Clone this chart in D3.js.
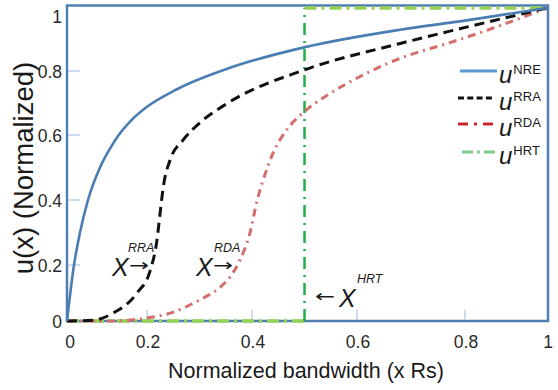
<!DOCTYPE html>
<html>
<head>
<meta charset="utf-8">
<script src="https://cdn.jsdelivr.net/npm/d3@7/dist/d3.min.js"></script>
<style>
  html, body { margin: 0; padding: 0; background: #fff; }
  svg { display: block; font-family: "Liberation Sans", Arial, sans-serif; }
</style>
</head>
<body>
<svg id="chart" width="558" height="390"></svg>
<script>
// Tick values and labels
const xTicks = [0, 0.2, 0.4, 0.6, 0.8, 1];
const yTicks = [0, 0.2, 0.4, 0.6, 0.8, 1];
const xTickLabels = ["0", "0.2", "0.4", "0.6", "0.8", "1"];
const yTickLabels = ["0", "0.2", "0.4", "0.6", "0.8", "1"];

// Utility curves u(x), normalized bandwidth x
const nreX = [0, 0.0175, 0.0325, 0.0525, 0.0825, 0.105, 0.1275, 0.16, 0.2, 0.257, 0.358, 0.499, 0.68, 0.8, 1];
const nreU = [0, 0.2, 0.3, 0.4, 0.5, 0.553, 0.597, 0.645, 0.688, 0.743, 0.81, 0.875, 0.931, 0.96, 1];

const rraX = [0, 0.065, 0.115, 0.175, 0.206, 0.219, 0.225, 0.231, 0.244, 0.269, 0.30, 0.354, 0.499, 0.68, 0.79, 1];
const rraU = [0, 0.003, 0.028, 0.1, 0.18, 0.277, 0.36, 0.44, 0.523, 0.585, 0.637, 0.70, 0.803, 0.8875, 0.934, 1];

const rdaX = [0, 0.1, 0.195, 0.244, 0.30, 0.339, 0.358, 0.377, 0.396, 0.41, 0.421, 0.44, 0.466, 0.499, 0.549, 0.611, 0.68, 0.772, 0.864, 1];
const rdaU = [0, 0, 0.01, 0.028, 0.075, 0.12, 0.157, 0.215, 0.298, 0.4, 0.46, 0.544, 0.616, 0.672, 0.73, 0.7875, 0.84, 0.89, 0.934, 1];

const hrtX = [0, 0.5, 0.5, 1];
const hrtU = [0, 0, 1, 1];

// Legend entries and annotation labels
const legendNames = ["NRE", "RRA", "RDA", "HRT"];
const markers = [
  { base: "X", sup: "RRA", arrow: "→" },
  { base: "X", sup: "RDA", arrow: "→" },
  { base: "X", sup: "HRT", arrow: "←" }
];

const svg = d3.select("#chart");

// Axis scales (piecewise-linear between tick positions)
const x = d3.scaleLinear().domain(xTicks).range([67, 147, 252, 357, 465, 547]);
const y = d3.scaleLinear().domain(yTicks).range([321, 265, 200, 135, 71, 8]);

const frameColor = "#4f7fb3";
const tickColor = "#b9d1ea";

// Frame
svg.append("rect")
  .attr("x", x(0)).attr("y", 5.5)
  .attr("width", x(1) + 1 - x(0)).attr("height", y(0) - 5.5)
  .attr("fill", "none").attr("stroke", frameColor).attr("stroke-width", 2.5);

// Inner tick marks
svg.append("g").selectAll("line").data(yTicks.filter(v => v > 0 && v < 1)).join("line")
  .attr("x1", x(0) + 1).attr("x2", x(0) + 13)
  .attr("y1", d => y(d)).attr("y2", d => y(d))
  .attr("stroke", tickColor).attr("stroke-width", 1.5);
svg.append("g").selectAll("line").data(xTicks.filter(v => v > 0 && v < 1)).join("line")
  .attr("x1", d => x(d)).attr("x2", d => x(d))
  .attr("y1", y(0) - 1).attr("y2", y(0) - 11)
  .attr("stroke", tickColor).attr("stroke-width", 1.5);

// Tick labels
svg.append("g").selectAll("text").data(yTicks).join("text")
  .attr("x", 62)
  .attr("y", d => Math.max(y(d) + 6.5, 23))
  .attr("text-anchor", "end")
  .attr("font-size", 17.5).attr("fill", "#2a2a2a")
  .text((d, i) => yTickLabels[i]);
svg.append("g").selectAll("text").data(xTicks).join("text")
  .attr("x", d => x(d) + (d === 0 ? 3 : 1))
  .attr("y", 348)
  .attr("text-anchor", "middle")
  .attr("font-size", 17.5).attr("fill", "#2a2a2a")
  .text((d, i) => xTickLabels[i]);

// Axis titles
svg.append("text")
  .attr("x", 306).attr("y", 378)
  .attr("text-anchor", "middle")
  .attr("font-size", 21.5).attr("fill", "#1a1a1a")
  .text("Normalized bandwidth (x Rs)");
svg.append("text")
  .attr("transform", "translate(33,168) rotate(-90)")
  .attr("text-anchor", "middle")
  .attr("font-size", 27.5).attr("fill", "#1a1a1a")
  .text("u(x) (Normalized)");

const line = d3.line().x(d => x(d[0])).y(d => y(d[1])).curve(d3.curveMonotoneX);
const zip = (xs, us) => xs.map((v, i) => [v, us[i]]);

// HRT step (horizontal parts light green, jump darker green)
const hrt = zip(hrtX, hrtU);
const hrtSegs = d3.pairs(hrt);
svg.append("g").selectAll("path").data(hrtSegs).join("path")
  .attr("d", d => d3.line().x(p => x(p[0])).y(p => y(p[1]))(d))
  .attr("fill", "none")
  .attr("stroke", d => d[0][0] === d[1][0] ? "#1fae48" : "#95d152")
  .attr("stroke-width", d => d[0][0] === d[1][0] ? 2.5 : 3.5)
  .attr("stroke-dasharray", d => d[0][0] === d[1][0] ? "12,6,2,6" : "12,5,3,5");

// RDA
svg.append("path")
  .attr("d", line(zip(rdaX, rdaU)))
  .attr("fill", "none").attr("stroke", "#d46e6c").attr("stroke-width", 3)
  .attr("stroke-dasharray", "8,5,2,5");

// RRA
svg.append("path")
  .attr("d", line(zip(rraX, rraU)))
  .attr("fill", "none").attr("stroke", "#111").attr("stroke-width", 3)
  .attr("stroke-dasharray", "10,6");

// NRE
svg.append("path")
  .attr("d", line(zip(nreX, nreU)))
  .attr("fill", "none").attr("stroke", "#4a7db3").attr("stroke-width", 2.6);

// Legend
const legendStyles = [
  { color: "#5b9bd5", dash: null, x1: 460 },
  { color: "#111", dash: "6,3.3", x1: 458 },
  { color: "#c4282e", dash: "10,6,3,6", x1: 458 },
  { color: "#7dcd90", dash: "11,4,3,4", x1: 462 }
];
const legendRows = [71, 98, 124, 152];
const lg = svg.append("g");
legendNames.forEach((name, i) => {
  const st = legendStyles[i];
  const ly = legendRows[i];
  lg.append("line")
    .attr("x1", st.x1).attr("x2", st.x1 + 37)
    .attr("y1", ly).attr("y2", ly)
    .attr("stroke", st.color).attr("stroke-width", 3)
    .attr("stroke-dasharray", st.dash);
  const t = lg.append("text").attr("x", 499).attr("y", ly + 12).attr("fill", "#1a1a1a");
  t.append("tspan").attr("font-size", 24).attr("font-style", "italic").text("u");
  t.append("tspan").attr("font-size", 13).attr("dx", 1).attr("dy", -9).text(name);
});

// Threshold annotations
const annPos = [
  { tx: 112, ty: 276, sx: 128, sy: 252, ax: 129, ay: 271 },
  { tx: 196, ty: 276, sx: 214, sy: 252, ax: 213, ay: 271 },
  { tx: 339, ty: 307, sx: 357, sy: 283, ax: 315, ay: 302 }
];
markers.forEach((m, i) => {
  const p = annPos[i];
  const g = svg.append("g").attr("fill", "#1a1a1a");
  g.append("text").attr("x", p.tx).attr("y", p.ty)
    .attr("font-size", 25).attr("font-style", "italic").text(m.base);
  g.append("text").attr("x", p.sx).attr("y", p.sy)
    .attr("font-size", 12.5).attr("font-style", "italic").text(m.sup);
  g.append("text").attr("x", p.ax).attr("y", p.ay)
    .attr("font-family", "'DejaVu Sans', sans-serif")
    .attr("font-size", 17)
    .attr("textLength", 20).attr("lengthAdjust", "spacingAndGlyphs")
    .text(m.arrow);
});
</script>
</body>
</html>
